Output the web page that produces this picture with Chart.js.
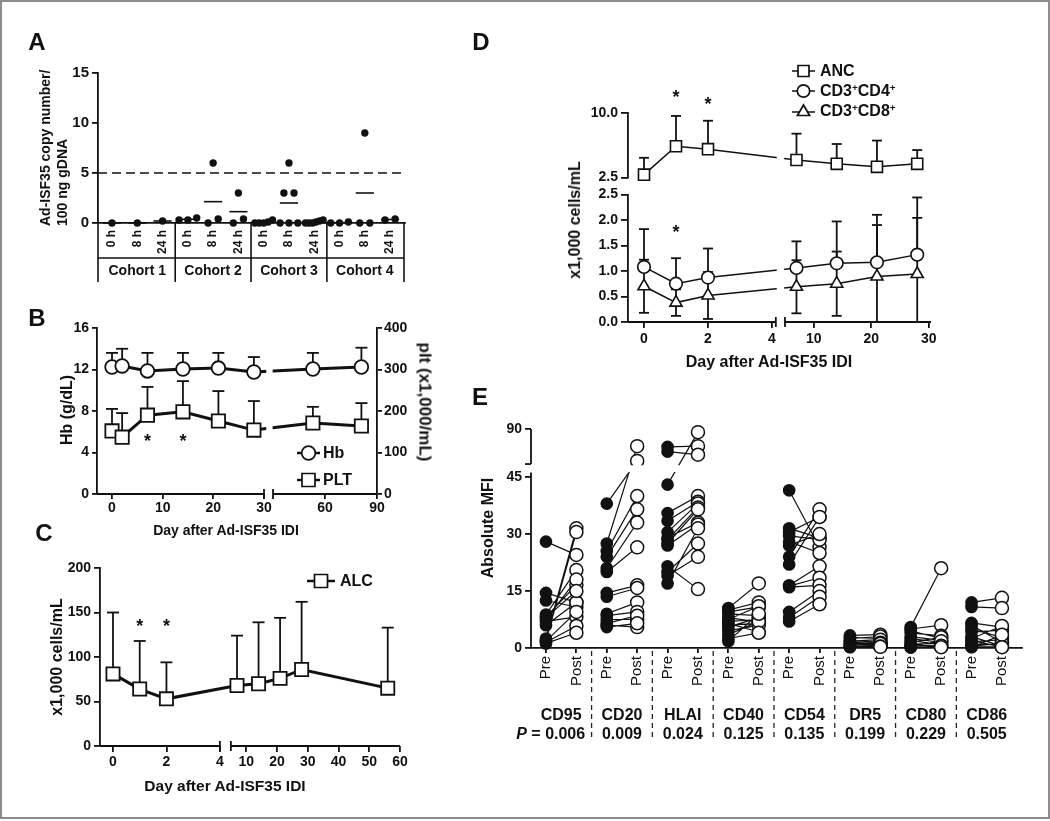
<!DOCTYPE html>
<html lang="en">
<head>
<meta charset="utf-8">
<title>Ad-ISF35 figure</title>
<script src="https://cdn.jsdelivr.net/npm/chart.js@4.4.1/dist/chart.umd.min.js"></script>
<style>
  html, body { margin: 0; padding: 0; background: #fff; }
  #page { position: relative; width: 1050px; height: 821px; overflow: hidden; background: #fff;
          font-family: "Liberation Sans", Arial, Helvetica, sans-serif; color: #111; }
  #frame { position: absolute; left: 0; top: 0; width: 1046px; height: 815px; border: 2px solid #8c8c8c; }
  canvas { position: absolute; }
  .t { position: absolute; white-space: nowrap; font-weight: bold; line-height: 1; color: #111; }
  .t sup { font-size: 0.62em; vertical-align: 0.5em; line-height: 0; }
</style>
</head>
<body>
<div id="page"><div id="frame"></div></div>
<script>
// ================= DATA =================
// Panel A : vector copy number per 100 ng gDNA
const aTimeLabels = ['0 h', '8 h', '24 h'];
const aCohorts = ['Cohort 1', 'Cohort 2', 'Cohort 3', 'Cohort 4'];
const aCopies = [
  [0], [0], [0.2],
  [0.5, 0.3, 0.3], [6, 0, 0.4], [3, 0, 0.4],
  [0, 0, 0.1, 0.3, 0], [6, 3, 3, 0, 0, 0], [0, 0.1, 0.3, 0, 0.2, 0],
  [0.1, 0, 0], [9, 0, 0], [0.3, 0.4]
];
const aThreshold = 5;

// Panel B : Hb and platelets
const bDays = [0, 2, 7, 14, 21, 28, 53, 81];
const bHb = [12.24, 12.34, 11.86, 12.05, 12.14, 11.76, 12.05, 12.24];
const bHbSD = [1.36, 1.66, 1.74, 1.55, 1.46, 1.44, 1.55, 1.86];
const bPlt = [152, 137, 190, 198, 176, 154, 171, 164];
const bPltSD = [53, 58, 68, 74, 72, 70, 39, 55];
const bXTicks = [0, 10, 20, 30, 60, 90];
const bStarDays = [7, 14];

// Panel C : ALC
const cDays = [0, 1, 2, 7, 14, 21, 28, 56];
const cAlc = [81, 64, 53, 68, 70, 76, 86, 65];
const cAlcSD = [69, 54, 41, 56, 69, 68, 76, 68];
const cXTicks = [0, 2, 4, 10, 20, 30, 40, 50, 60];
const cStarDays = [1, 2];

// Panel D : ANC, CD4, CD8
const dDays = [0, 1, 2, 7, 14, 21, 28];
const dAnc = [2.84, 6.14, 5.8, 4.55, 4.1, 3.75, 4.1];
const dAncSD = [1.96, 3.52, 3.3, 3.05, 2.3, 3.05, 1.6];
const dCd4 = [1.08, 0.75, 0.87, 1.06, 1.15, 1.17, 1.32];
const dCd4SD = [0.74, 0.5, 0.57, 0.52, 0.82, 0.93, 1.12];
const dCd8 = [0.7, 0.38, 0.52, 0.69, 0.75, 0.89, 0.94];
const dCd8SD = [0.52, 0.26, 0.46, 0.52, 0.63, 1.01, 1.1];
const dXTicks = [0, 2, 4, 10, 20, 30];

// Panel E : absolute MFI pre / post
const eMarkers = ['CD95', 'CD20', 'HLAI', 'CD40', 'CD54', 'DR5', 'CD80', 'CD86'];
const ePValues = ['0.006', '0.009', '0.024', '0.125', '0.135', '0.199', '0.229', '0.505'];
const ePre = [
  [28, 14.5, 12.5, 8.8, 8.2, 7.5, 7, 6, 2.5, 2, 1.5, 1.2, 1.8, 8],
  [38, 27.5, 25.5, 24, 21, 20, 14.5, 13.5, 9, 8.5, 7.5, 6.5, 6, 5.5],
  [67, 61, 43, 35.5, 33.5, 30.5, 29, 28.5, 27.5, 27, 21.5, 20, 19, 17],
  [10.5, 10, 9.5, 9, 8, 7.5, 7, 6.5, 6, 5.5, 4.5, 3.5, 2.5, 1.8],
  [41.5, 31.5, 30.5, 29.5, 28, 27, 24, 22, 16.5, 16.3, 16, 9.5, 8, 7],
  [3.3, 2.8, 2.5, 2, 1.8, 1.5, 1.2, 1, 0.8, 0.6, 0.5, 0.4, 0.3, 0.2],
  [5.5, 5, 4.5, 4, 3, 2.5, 2, 1.5, 1, 0.8, 0.5, 0.3, 0.2, 0.1],
  [12, 10.8, 6.6, 6, 5, 4.2, 3, 2.5, 1.6, 1, 0.5, 0.3, 0.2, 2]
];
const ePost = [
  [24.5, 12, 10.8, 20.5, 16.6, 18, 8.2, 12, 31.5, 30.5, 5.8, 4, 9.5, 15],
  [49, 68, 40, 36.5, 33, 26.5, 16.5, 15.8, 12, 9.5, 7.5, 8.5, 5.5, 6.5],
  [68, 57, 86, 40, 38.5, 38, 33, 37, 36.5, 32.5, 15.5, 27.5, 24, 31.5],
  [17, 12, 10.8, 8.5, 6.8, 11, 7.5, 4.2, 6.5, 8, 6, 7, 4, 9],
  [26.5, 29, 34.5, 28.5, 25, 30, 36.5, 34.5, 21.5, 18.5, 16.5, 15, 13.5, 11.5],
  [3.5, 2.5, 3, 1.5, 2.2, 1.2, 1, 0.8, 1.4, 0.5, 0.7, 1.1, 0.4, 0.3],
  [21, 6, 2.5, 3.2, 2, 1.5, 0.8, 2.8, 1.2, 0.5, 1.8, 0.3, 0.6, 0.2],
  [13.2, 10.5, 5.5, 1.5, 2.8, 4.7, 0.5, 5.8, 2.2, 0.8, 1.2, 0.3, 3.5, 0.2]
];
const eYTicks = [0, 15, 30, 45, 90];

// ================= AXIS BREAK TRANSFORMS (axis config) =================
const bx = d => d <= 30 ? d : 31.78 + (d - 30) * 0.342;
const cx = d => d <= 4.5 ? d : 4.411 + (d - 5) * 0.1151;
const dx = d => d <= 4.5 ? d : 4.406 + (d - 5) * 0.1797;
const ey = v => v <= 45 ? v : 48.42 + (v - 45) * 0.2047;

// ================= HELPERS =================
const INK = '#111';
Chart.defaults.font.family = '"Liberation Sans", Arial, Helvetica, sans-serif';
Chart.defaults.font.weight = 'bold';
Chart.defaults.font.size = 14;
Chart.defaults.color = INK;
const page = document.getElementById('page');

function place(l, t, r, b, m) {
  const pl = m.pl ?? 4, pt = m.pt ?? 12, pr = m.pr ?? 14, pb = m.pb ?? 4;
  const wy = m.wy ?? 0, wr = m.wr ?? 0, hx = m.hx ?? 0;
  const x = l - wy - pl, y = t - pt;
  const w = pl + wy + (r - l) + wr + pr, h = pt + (b - t) + hx + pb;
  const c = document.createElement('canvas');
  c.width = w; c.height = h;
  c.style.left = x + 'px'; c.style.top = y + 'px';
  c.style.width = w + 'px'; c.style.height = h + 'px';
  page.appendChild(c);
  return { canvas: c, x, y, padding: { left: pl, top: pt, right: pr, bottom: pb } };
}

function linAxis(o) {
  const s = {
    type: 'linear', position: o.position, min: o.min, max: o.max,
    display: o.display ?? true,
    border: { display: o.border ?? true, color: INK, width: 1.8 },
    grid: { display: o.tickMarks ?? true, drawOnChartArea: false, drawTicks: true,
            tickLength: o.tickLength ?? 6, color: INK, lineWidth: 1.8 },
    ticks: { autoSkip: false, color: INK, padding: o.padding ?? 3,
             font: o.font || { size: 14, weight: 'bold' },
             maxRotation: o.rot ?? 0, minRotation: o.rot ?? 0 }
  };
  if (o.stepSize) s.ticks.stepSize = o.stepSize;
  if (o.tickValues) { const tv = o.tickValues; s.afterBuildTicks = sc => { sc.ticks = tv.map(v => ({ value: v })); }; }
  if (o.labels) { const lb = o.labels; s.ticks.callback = (v, i) => lb[i]; }
  else if (o.fmt) s.ticks.callback = o.fmt;
  if (o.size != null) { const sz = o.size; s.afterFit = sc => { if (sc.isHorizontal()) sc.height = sz; else sc.width = sz; }; }
  return s;
}

function opts(p, scales, pluginOpts) {
  return {
    responsive: false, animation: false, devicePixelRatio: 1, events: [],
    layout: { padding: p.padding, autoPadding: false },
    scales,
    plugins: Object.assign({ legend: { display: false }, tooltip: { enabled: false } }, pluginOpts || {})
  };
}

function lineSet(data, o) {
  return Object.assign({
    data, borderColor: INK, backgroundColor: '#fff', pointBackgroundColor: '#fff',
    pointBorderColor: INK, pointBorderWidth: 1.8, tension: 0, fill: false, clip: false
  }, o);
}

function txt(html, x, y, o = {}) {
  const d = document.createElement('div');
  d.className = 't';
  d.innerHTML = html;
  d.style.fontSize = (o.size || 14) + 'px';
  if (o.weight) d.style.fontWeight = o.weight;
  d.style.left = x + 'px';
  d.style.top = y + 'px';
  const ax = o.align === 'left' ? '0' : o.align === 'right' ? '-100%' : '-50%';
  d.style.transform = `translate(${ax}, -50%)` + (o.rot ? ` rotate(${o.rot}deg)` : '');
  page.appendChild(d);
  return d;
}

function spreadX(vals, center) {
  const order = vals.map((v, i) => i).sort((a, b) => vals[a] - vals[b]);
  const out = new Array(vals.length).fill(center);
  let grp = [];
  const flush = () => {
    const n = grp.length;
    const step = n > 1 ? Math.min(0.4, 0.7 / (n - 1)) : 0;
    grp.forEach((k, j) => { out[k] = center + (j - (n - 1) / 2) * step; });
    grp = [];
  };
  order.forEach(k => {
    if (grp.length && vals[k] - vals[grp[grp.length - 1]] > 0.8) flush();
    grp.push(k);
  });
  flush();
  return out;
}

function strokeLine(ctx, x1, y1, x2, y2) { ctx.beginPath(); ctx.moveTo(x1, y1); ctx.lineTo(x2, y2); ctx.stroke(); }

// ================= PLUGINS =================
const errorBarPlugin = {
  id: 'errorBars',
  beforeDatasetsDraw(chart) {
    const ctx = chart.ctx;
    chart.data.datasets.forEach((ds, di) => {
      if (!ds.errUp) return;
      const meta = chart.getDatasetMeta(di);
      const ys = chart.scales[meta.yAxisID];
      const cap = ds.errCap || 6;
      ctx.save();
      ctx.strokeStyle = INK; ctx.lineWidth = ds.errWidth || 1.8;
      meta.data.forEach((pt, i) => {
        const v = ds.data[i].y;
        const seg = (val, capped) => {
          const yv = ys.getPixelForValue(val);
          strokeLine(ctx, pt.x, pt.y, pt.x, yv);
          if (capped) strokeLine(ctx, pt.x - cap, yv, pt.x + cap, yv);
        };
        seg(v + ds.errUp[i], true);
        if (ds.errDown) { const lo = v - ds.errDown[i]; seg(Math.max(lo, ys.min), lo >= ys.min); }
      });
      ctx.restore();
    });
  }
};

const breaksPlugin = {
  id: 'breaks',
  afterDatasetsDraw(chart, args, o) {
    const ctx = chart.ctx, ca = chart.chartArea;
    const xs = chart.scales.x, ys = chart.scales.y;
    ctx.save();
    ctx.fillStyle = '#fff';
    if (o.clearX) for (const r of o.clearX) {
      const xa = xs.getPixelForValue(r[0]), xb = xs.getPixelForValue(r[1]);
      ctx.fillRect(xa, 0, xb - xa, ca.bottom - 1.5);
    }
    if (o.clearY) for (const r of o.clearY) {
      const ya = ys.getPixelForValue(r[0]), yb = ys.getPixelForValue(r[1]);
      ctx.fillRect(ca.left + 1.5, Math.min(ya, yb), ca.right - ca.left, Math.abs(ya - yb));
    }
    ctx.strokeStyle = INK; ctx.lineWidth = 1.8;
    if (o.xSegs) for (const r of o.xSegs) strokeLine(ctx, xs.getPixelForValue(r[0]), ca.bottom, xs.getPixelForValue(r[1]), ca.bottom);
    if (o.xMarks) for (const u of o.xMarks) { const x = xs.getPixelForValue(u); strokeLine(ctx, x, ca.bottom - 5, x, ca.bottom + 5); }
    if (o.ySegs) for (const r of o.ySegs) strokeLine(ctx, ca.left, ys.getPixelForValue(r[0]), ca.left, ys.getPixelForValue(r[1]));
    if (o.yMarks) for (const v of o.yMarks) { const y = ys.getPixelForValue(v); strokeLine(ctx, ca.left - 6, y, ca.left, y); }
    ctx.restore();
  }
};

const panelAPlugin = {
  id: 'panelA',
  beforeDatasetsDraw(chart) {
    const ctx = chart.ctx, ca = chart.chartArea, ys = chart.scales.y;
    ctx.save();
    ctx.strokeStyle = INK; ctx.lineWidth = 1.6; ctx.setLineDash([9, 5]);
    const yt = ys.getPixelForValue(aThreshold);
    strokeLine(ctx, ca.left, yt, ca.right, yt);
    ctx.restore();
  },
  afterDatasetsDraw(chart) {
    const ctx = chart.ctx, ca = chart.chartArea, xs = chart.scales.x, ys = chart.scales.y;
    ctx.save();
    ctx.strokeStyle = INK; ctx.lineWidth = 1.6;
    aCopies.forEach((vals, i) => {
      const m = vals.reduce((s, v) => s + v, 0) / vals.length;
      const y = ys.getPixelForValue(m);
      strokeLine(ctx, xs.getPixelForValue(i - 0.36), y, xs.getPixelForValue(i + 0.36), y);
    });
    const yb = ca.bottom;
    const xsList = [ca.left, ca.right - 1];
    for (let g = 1; g < aCohorts.length; g++) xsList.push(xs.getPixelForValue(g * aTimeLabels.length - 0.5));
    xsList.forEach(x => strokeLine(ctx, x, yb, x, yb + 59));
    strokeLine(ctx, ca.left, yb + 35, ca.right - 1, yb + 35);
    ctx.restore();
  }
};

const eSepPlugin = {
  id: 'eSep',
  afterDraw(chart) {
    const ctx = chart.ctx, ca = chart.chartArea, xs = chart.scales.x;
    ctx.save();
    ctx.strokeStyle = '#222'; ctx.lineWidth = 1.3; ctx.setLineDash([5, 4]);
    for (let g = 1; g < eMarkers.length; g++) {
      const x = xs.getPixelForValue(2 * g - 0.5);
      strokeLine(ctx, x, ca.bottom + 3, x, ca.bottom + 93);
    }
    ctx.restore();
  }
};

// ================= PANEL A =================
const pA = place(98, 73, 405, 223, { wy: 40, hx: 36, pb: 26 });
const aPoints = [];
aCopies.forEach((vals, i) => {
  const xsPos = spreadX(vals, i);
  vals.forEach((v, j) => aPoints.push({ x: xsPos[j], y: v }));
});
const chartA = new Chart(pA.canvas, {
  type: 'scatter',
  data: { datasets: [{ data: aPoints, pointRadius: 3.7, pointBackgroundColor: INK, pointBorderColor: INK, pointBorderWidth: 0, clip: false }] },
  options: opts(pA, {
    x: linAxis({ position: 'bottom', min: -0.554, max: 11.59, tickValues: aCopies.map((_, i) => i),
                 labels: aCopies.map((_, i) => aTimeLabels[i % aTimeLabels.length]), rot: 90,
                 tickMarks: false, tickLength: 6, padding: 1, font: { size: 12, weight: 'bold' }, size: 36 }),
    y: linAxis({ position: 'left', min: 0, max: 15, stepSize: 5, size: 40, font: { size: 15, weight: 'bold' } })
  }, { panelA: {} }),
  plugins: [panelAPlugin]
});

// ================= PANEL B =================
const pB = place(97, 328, 377, 494, { wy: 36, wr: 36, hx: 22, pr: 4 });
const chartB = new Chart(pB.canvas, {
  type: 'line',
  data: { datasets: [
    lineSet(bDays.map((d, i) => ({ x: bx(d), y: bHb[i] })), { yAxisID: 'y', errUp: bHbSD, errCap: 6, pointStyle: 'circle', pointRadius: 6.8, borderWidth: 3 }),
    lineSet(bDays.map((d, i) => ({ x: bx(d), y: bPlt[i] })), { yAxisID: 'y1', errUp: bPltSD, errCap: 6, pointStyle: 'rect', pointRadius: 9.4, borderWidth: 3 })
  ] },
  options: opts(pB, {
    x: linAxis({ position: 'bottom', min: -2.96, max: 52.3, tickValues: bXTicks.map(bx), labels: bXTicks.map(String),
                 border: false, tickLength: 5, padding: 1, size: 22 }),
    y: linAxis({ position: 'left', min: 0, max: 16, stepSize: 4, size: 36, tickLength: 5 }),
    y1: linAxis({ position: 'right', min: 0, max: 400, stepSize: 100, size: 36, tickLength: 5, padding: 2 })
  }, { breaks: { clearX: [[30.45, 31.7]], xSegs: [[-2.96, 30], [31.78, 52.3]], xMarks: [30, 31.78] } }),
  plugins: [errorBarPlugin, breaksPlugin]
});

// ================= PANEL C =================
const pC = place(100, 568, 400, 746, { wy: 40, hx: 24 });
const chartC = new Chart(pC.canvas, {
  type: 'line',
  data: { datasets: [
    lineSet(cDays.map((d, i) => ({ x: cx(d), y: cAlc[i] })), { errUp: cAlcSD, errCap: 6, pointStyle: 'rect', pointRadius: 9.3, borderWidth: 3 })
  ] },
  options: opts(pC, {
    x: linAxis({ position: 'bottom', min: -0.486, max: 10.74, tickValues: cXTicks.map(cx), labels: cXTicks.map(String),
                 border: false, tickLength: 6, padding: 2, size: 24 }),
    y: linAxis({ position: 'left', min: 0, max: 200, stepSize: 50, size: 40 })
  }, { breaks: { xSegs: [[-0.486, 4], [4.411, 10.74]], xMarks: [4, 4.411] } }),
  plugins: [errorBarPlugin, breaksPlugin]
});

// ================= PANEL D =================
const fmt1 = v => Number(v).toFixed(1);
const pDt = place(628, 113, 931, 179, { wy: 46, pb: 10 });
const chartDt = new Chart(pDt.canvas, {
  type: 'line',
  data: { datasets: [
    lineSet(dDays.map((d, i) => ({ x: dx(d), y: dAnc[i] })), { errUp: dAncSD, errCap: 5, pointStyle: 'rect', pointRadius: 7.8, borderWidth: 1.5, pointBorderWidth: 1.6 })
  ] },
  options: opts(pDt, {
    x: linAxis({ position: 'bottom', min: -0.5, max: 8.97, display: false }),
    y: linAxis({ position: 'left', min: 2.5, max: 10, tickValues: [2.5, 10], fmt: fmt1, size: 46, tickLength: 7 })
  }, { breaks: { clearX: [[4.15, 4.38]] } }),
  plugins: [errorBarPlugin, breaksPlugin]
});
const pDb = place(628, 193, 931, 322, { wy: 46, hx: 24, pt: 10 });
const chartDb = new Chart(pDb.canvas, {
  type: 'line',
  data: { datasets: [
    lineSet(dDays.map((d, i) => ({ x: dx(d), y: dCd8[i] })), { errUp: dCd8SD, errDown: dCd8SD, errCap: 5, pointStyle: 'triangle', pointRadius: 7, borderWidth: 1.5, pointBorderWidth: 1.6 }),
    lineSet(dDays.map((d, i) => ({ x: dx(d), y: dCd4[i] })), { errUp: dCd4SD, errCap: 5, pointStyle: 'circle', pointRadius: 6.3, borderWidth: 1.5, pointBorderWidth: 1.6 })
  ] },
  options: opts(pDb, {
    x: linAxis({ position: 'bottom', min: -0.5, max: 8.97, tickValues: dXTicks.map(dx), labels: dXTicks.map(String),
                 border: false, tickLength: 6, padding: 3, size: 24 }),
    y: linAxis({ position: 'left', min: 0, max: 2.5, stepSize: 0.5, fmt: fmt1, size: 46, tickLength: 7 })
  }, { breaks: { clearX: [[4.15, 4.38]], xSegs: [[-0.5, 4.12], [4.406, 8.97]], xMarks: [4.12, 4.406] } }),
  plugins: [errorBarPlugin, breaksPlugin]
});

// ================= PANEL E =================
const eYMax = ey(90) + 0.01;
const pE = place(531, 429, 1022, 648, { wy: 36, hx: 50, pt: 14, pr: 10, pb: 46 });
const eDatasets = eMarkers.map((m, i) => {
  const data = [];
  ePre[i].forEach((p, j) => {
    data.push({ x: 2 * i, y: ey(p) }, { x: 2 * i + 1, y: ey(ePost[i][j]) }, { x: 2 * i + 0.5, y: null });
  });
  return {
    label: m, data, borderColor: INK, borderWidth: 1.2, spanGaps: false, clip: false, tension: 0,
    pointStyle: 'circle',
    pointRadius: c => (c.raw && c.raw.y !== null) ? (c.raw.x % 2 === 0 ? 5.6 : 6.5) : 0,
    pointBackgroundColor: c => (c.raw && c.raw.x % 2 === 0) ? INK : '#fff',
    pointBorderColor: INK, pointBorderWidth: 1.5
  };
});
const chartE = new Chart(pE.canvas, {
  type: 'line',
  data: { datasets: eDatasets },
  options: opts(pE, {
    x: linAxis({ position: 'bottom', min: -0.493, max: 15.66,
                 tickValues: eMarkers.flatMap((_, i) => [2 * i, 2 * i + 1]),
                 labels: eMarkers.flatMap(() => ['Pre', 'Post']), rot: 90,
                 tickLength: 5, padding: 3, font: { size: 15, weight: 'normal' }, size: 50 }),
    y: linAxis({ position: 'left', min: 0, max: eYMax, tickValues: eYTicks.map(ey), labels: eYTicks.map(String),
                 border: false, size: 36, tickLength: 6 })
  }, { breaks: { clearY: [[46.3, 48.1]], ySegs: [[0, 46.2], [48.42, eYMax]], yMarks: [48.42] } }),
  plugins: [breaksPlugin, eSepPlugin]
});

// ================= LEGEND ICONS =================
const ic = document.createElement('canvas');
ic.width = 1050; ic.height = 821;
ic.style.left = '0px'; ic.style.top = '0px'; ic.style.width = '1050px'; ic.style.height = '821px';
page.appendChild(ic);
const ictx = ic.getContext('2d');
function legendIcon(shape, x, y, half, size, lw) {
  ictx.save();
  ictx.strokeStyle = INK; ictx.fillStyle = '#fff'; ictx.lineWidth = lw;
  strokeLine(ictx, x - half, y, x + half, y);
  ictx.beginPath();
  if (shape === 'circle') ictx.arc(x, y, size, 0, Math.PI * 2);
  else if (shape === 'rect') ictx.rect(x - size / 2, y - size / 2, size, size);
  else { ictx.moveTo(x, y - size); ictx.lineTo(x + size * 0.866, y + size * 0.5); ictx.lineTo(x - size * 0.866, y + size * 0.5); ictx.closePath(); }
  ictx.fill(); ictx.lineWidth = 1.7; ictx.stroke();
  ictx.restore();
}
legendIcon('circle', 308.5, 453, 11.5, 6.8, 2.5);
legendIcon('rect', 308.5, 480, 11.5, 13, 2.5);
legendIcon('rect', 321, 581, 14, 13, 2.5);
legendIcon('rect', 803.5, 71, 11.5, 11, 1.5);
legendIcon('circle', 803.5, 91, 11.5, 6.2, 1.5);
legendIcon('tri', 803.5, 112, 11.5, 7, 1.5);

// ================= TEXT =================
const px = (p, chart, axis, v) => (axis === 'x' ? p.x : p.y) + chart.scales[axis].getPixelForValue(v);

// Panel letters
txt('A', 37, 42, { size: 24 });
txt('B', 37, 318, { size: 24 });
txt('C', 44, 533, { size: 24 });
txt('D', 481, 42, { size: 24 });
txt('E', 480, 397, { size: 24 });

// A
(function () {
  const d = document.createElement('div');
  d.className = 't';
  d.innerHTML = 'Ad-ISF35 copy number/<br>100 ng gDNA';
  d.style.fontSize = '14px'; d.style.lineHeight = '17px'; d.style.textAlign = 'left';
  d.style.left = '37px'; d.style.top = '226px';
  d.style.transformOrigin = '0 0'; d.style.transform = 'rotate(-90deg)';
  page.appendChild(d);
})();
aCohorts.forEach((c, g) => {
  const n = aTimeLabels.length;
  txt(c, px(pA, chartA, 'x', g * n + (n - 1) / 2), 270, { size: 14 });
});

// B
txt('Hb (g/dL)', 67, 410, { size: 16, rot: -90 });
txt('plt (x1,000/mL)', 425, 402, { size: 17, rot: 90 });
txt('Hb', 323, 453, { size: 16, align: 'left' });
txt('PLT', 323, 480, { size: 16, align: 'left' });
bStarDays.forEach(d => txt('*', px(pB, chartB, 'x', bx(d)), 441, { size: 18 }));
txt('Day after Ad-ISF35 IDI', 226, 530, { size: 14 });

// C
txt('x1,000 cells/mL', 57, 657, { size: 16, rot: -90 });
txt('ALC', 340, 581, { size: 16, align: 'left' });
cStarDays.forEach(d => txt('*', px(pC, chartC, 'x', cx(d)), 626, { size: 18 }));
txt('Day after Ad-ISF35 IDI', 225, 786, { size: 15.5 });

// D
txt('ANC', 820, 71, { size: 16, align: 'left' });
txt('CD3<sup>+</sup>CD4<sup>+</sup>', 820, 91, { size: 16, align: 'left' });
txt('CD3<sup>+</sup>CD8<sup>+</sup>', 820, 111, { size: 16, align: 'left' });
txt('*', px(pDt, chartDt, 'x', dx(1)), 97, { size: 18 });
txt('*', px(pDt, chartDt, 'x', dx(2)), 104, { size: 18 });
txt('*', px(pDb, chartDb, 'x', dx(1)), 232, { size: 18 });
txt('x1,000 cells/mL', 575, 220, { size: 16, rot: -90 });
txt('Day after Ad-ISF35 IDI', 769, 362, { size: 16 });

// E
txt('Absolute MFI', 488, 528, { size: 16, rot: -90 });
eMarkers.forEach((m, i) => {
  const xc = px(pE, chartE, 'x', 2 * i + 0.5);
  txt(m, xc, 715, { size: 16 });
  if (i === 0) txt('<i>P</i> = ' + ePValues[i], xc + 24, 734, { size: 16, align: 'right' });
  else txt(ePValues[i], xc, 734, { size: 16 });
});
</script>
</body>
</html>
